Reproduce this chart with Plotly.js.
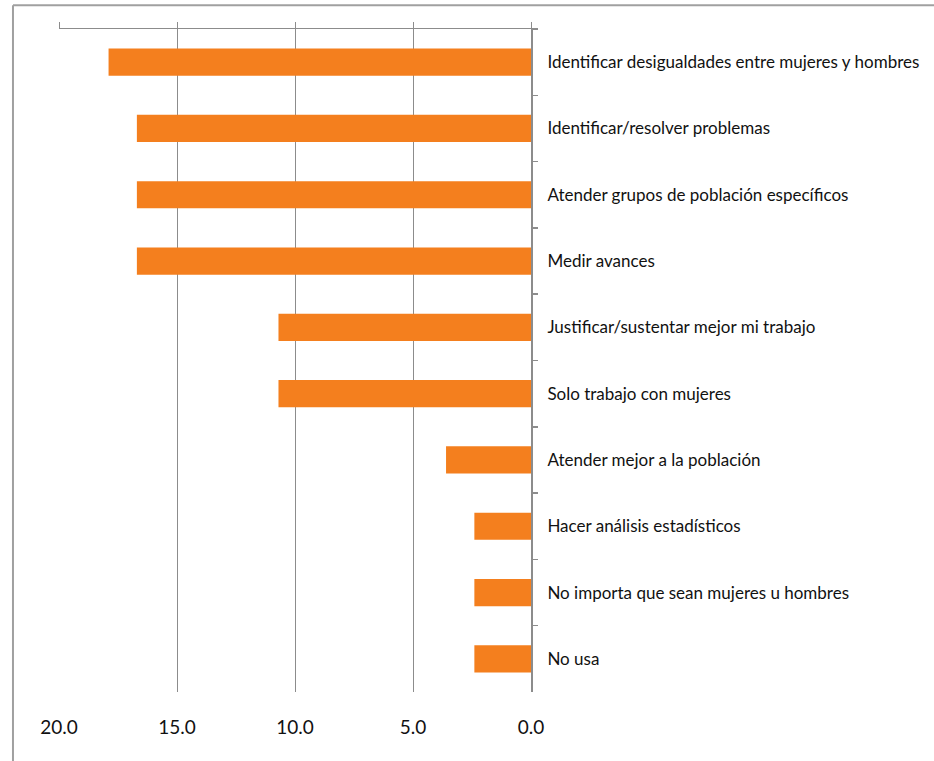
<!DOCTYPE html>
<html>
<head>
<meta charset="utf-8">
<script src="https://cdn.plot.ly/plotly-3.0.1.min.js"></script>
<style>html,body{margin:0;padding:0;background:#fff;}#chart{width:934px;height:761px;}</style>
</head>
<body>
<div id="chart"></div>
<script>
const categories = [
  "Identificar desigualdades entre mujeres y hombres",
  "Identificar/resolver problemas",
  "Atender grupos de población específicos",
  "Medir avances",
  "Justificar/sustentar mejor mi trabajo",
  "Solo trabajo con mujeres",
  "Atender mejor a la población",
  "Hacer análisis estadísticos",
  "No importa que sean mujeres u hombres",
  "No usa"
];
const values = [17.9, 16.7, 16.7, 16.7, 10.7, 10.7, 3.6, 2.4, 2.4, 2.4];
const xTicks = [20, 15, 10, 5, 0];

const fontFam = "Lato, 'Open Sans', sans-serif";
const grey = "#8c8c8c";

const traces = [
  {
    type: "bar",
    orientation: "h",
    x: values,
    y: categories,
    marker: {color: "#F47F1E"},
    hoverinfo: "x+y",
    xaxis: "x",
    yaxis: "y"
  },
  {
    type: "bar",
    orientation: "h",
    x: values,
    y: categories,
    marker: {color: "rgba(0,0,0,0)"},
    hoverinfo: "skip",
    showlegend: false,
    xaxis: "x2",
    yaxis: "y"
  }
];

const layout = {
  width: 934,
  height: 761,
  margin: {l: 59, r: 403, t: 29, b: 69},
  paper_bgcolor: "#fff",
  plot_bgcolor: "#fff",
  showlegend: false,
  bargap: 0.59,
  barmode: "overlay",
  font: {family: fontFam, color: "#1a1a1a"},
  xaxis: {
    range: [20, 0],
    tickvals: xTicks,
    tickformat: ".1f",
    showgrid: true,
    gridcolor: grey,
    gridwidth: 1,
    zeroline: false,
    showline: false,
    ticks: "",
    ticklabelstandoff: 22,
    tickfont: {size: 19, family: fontFam, color: "#111"},
    fixedrange: true
  },
  xaxis2: {
    overlaying: "x",
    side: "top",
    range: [20, 0],
    tickvals: xTicks,
    showticklabels: false,
    showgrid: false,
    zeroline: false,
    showline: true,
    linecolor: grey,
    linewidth: 1.5,
    ticks: "outside",
    ticklen: 6,
    tickcolor: grey,
    tickwidth: 1,
    fixedrange: true
  },
  yaxis: {
    type: "category",
    autorange: "reversed",
    side: "right",
    showline: true,
    linecolor: grey,
    linewidth: 2,
    ticks: "outside",
    tickson: "boundaries",
    ticklen: 5,
    tickcolor: grey,
    tickwidth: 1.5,
    showgrid: false,
    zeroline: false,
    ticklabelstandoff: 11,
    tickfont: {size: 17, family: fontFam, color: "#111"},
    fixedrange: true
  },
  shapes: [
    {
      type: "line",
      xref: "paper", yref: "paper",
      x0: -0.0975, x1: 2.5,
      y0: 1.036, y1: 1.036,
      line: {color: "#a0a0a0", width: 2},
      layer: "below"
    },
    {
      type: "line",
      xref: "paper", yref: "paper",
      x0: -0.0975, x1: -0.0975,
      y0: -0.5, y1: 1.036,
      line: {color: "#a0a0a0", width: 2},
      layer: "below"
    }
  ]
};

Plotly.newPlot("chart", traces, layout, {displayModeBar: false, staticPlot: true});
</script>
</body>
</html>
